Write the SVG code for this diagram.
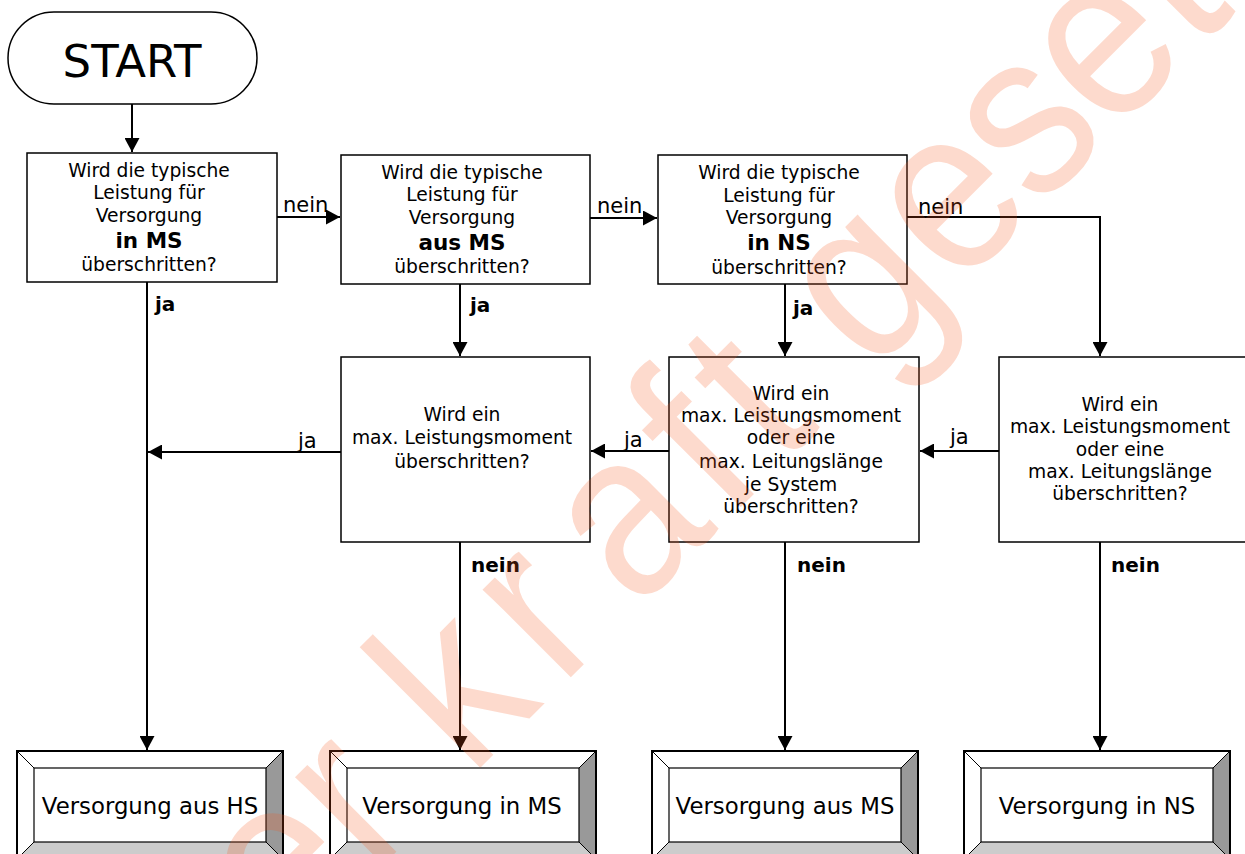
<svg xmlns="http://www.w3.org/2000/svg" width="1245" height="854" viewBox="0 0 1245 854">
<defs>
<style>
.box{fill:#fff;stroke:#000;stroke-width:1.5}
.c{fill:none;stroke:#000;stroke-width:2}
.t{font-family:"DejaVu Sans",Verdana,sans-serif;font-size:18.7px;text-anchor:middle;fill:#000}
.tb{font-family:"DejaVu Sans",Verdana,sans-serif;font-size:21.5px;font-weight:bold;text-anchor:middle;fill:#000}
.lr{font-family:"DejaVu Sans",Verdana,sans-serif;font-size:21px;fill:#000}
.lb{font-family:"DejaVu Sans",Verdana,sans-serif;font-size:20px;font-weight:bold;fill:#000}
.big{font-family:"DejaVu Sans",Verdana,sans-serif;font-size:45px;text-anchor:middle;fill:#000}
.out{font-family:"DejaVu Sans",Verdana,sans-serif;font-size:22.8px;text-anchor:middle;fill:#000}
.wm{font-family:"Liberation Sans",Arial,sans-serif;font-size:210px;fill:#F8561A;fill-opacity:0.22;text-anchor:middle}
</style>
<marker id="ah" markerUnits="userSpaceOnUse" markerWidth="15" markerHeight="15" refX="14" refY="7.5" orient="auto" viewBox="0 0 15 15"><path d="M0,0 L14,7.5 L0,15 z" fill="#000"/></marker>
<g id="bevel">
<polygon points="0,0 266,0 249,17 17,17" fill="#fff"/>
<polygon points="0,0 17,17 17,91 0,108" fill="#fff"/>
<polygon points="266,0 266,108 249,91 249,17" fill="#999"/>
<polygon points="0,108 17,91 249,91 266,108" fill="#ccc"/>
<rect x="17" y="17" width="232" height="74" fill="#fff" stroke="#000" stroke-width="1.2"/>
<path d="M0,0 L17,17 M266,0 L249,17 M0,108 L17,91 M266,108 L249,91" stroke="#000" stroke-width="1"/>
<rect x="0" y="0" width="266" height="108" fill="none" stroke="#000" stroke-width="2"/>
</g>
</defs>
<rect width="1245" height="854" fill="#fff"/>

<g id="start">
<rect x="8" y="12" width="249" height="92" rx="46" ry="46" class="box"/>
<text x="132" y="77" class="big">START</text>
</g>

<g id="q1">
<rect x="27" y="153" width="250" height="129" class="box"/>
<text class="t" x="149"><tspan x="149" y="177">Wird die typische</tspan><tspan x="149" y="199">Leistung für</tspan><tspan x="149" y="222">Versorgung</tspan></text>
<text class="tb" x="149" y="248">in MS</text>
<text class="t" x="149" y="271">überschritten?</text>
</g>

<g id="q2">
<rect x="341" y="155" width="249" height="129" class="box"/>
<text class="t"><tspan x="462" y="179">Wird die typische</tspan><tspan x="462" y="201">Leistung für</tspan><tspan x="462" y="224">Versorgung</tspan></text>
<text class="tb" x="462" y="250">aus MS</text>
<text class="t" x="462" y="273">überschritten?</text>
</g>

<g id="q3">
<rect x="658" y="155" width="249" height="129" class="box"/>
<text class="t"><tspan x="779" y="179">Wird die typische</tspan><tspan x="779" y="202">Leistung für</tspan><tspan x="779" y="224">Versorgung</tspan></text>
<text class="tb" x="779" y="250">in NS</text>
<text class="t" x="779" y="274">überschritten?</text>
</g>

<g id="q4">
<rect x="341" y="357" width="249" height="185" class="box"/>
<text class="t"><tspan x="462" y="421">Wird ein</tspan><tspan x="462" y="444">max. Leistungsmoment</tspan><tspan x="462" y="468">überschritten?</tspan></text>
</g>

<g id="q5">
<rect x="669" y="357" width="250" height="185" class="box"/>
<text class="t"><tspan x="791" y="400">Wird ein</tspan><tspan x="791" y="422">max. Leistungsmoment</tspan><tspan x="791" y="444">oder eine</tspan><tspan x="791" y="468">max. Leitungslänge</tspan><tspan x="791" y="491">je System</tspan><tspan x="791" y="513">überschritten?</tspan></text>
</g>

<g id="q6">
<rect x="999" y="357" width="252" height="185" class="box"/>
<text class="t"><tspan x="1120" y="411">Wird ein</tspan><tspan x="1120" y="433">max. Leistungsmoment</tspan><tspan x="1120" y="456">oder eine</tspan><tspan x="1120" y="478">max. Leitungslänge</tspan><tspan x="1120" y="500">überschritten?</tspan></text>
</g>

<g id="r1"><use href="#bevel" x="17" y="751"/><text class="out" x="150" y="814">Versorgung aus HS</text></g>
<g id="r2"><use href="#bevel" x="330" y="751"/><text class="out" x="462" y="814">Versorgung in MS</text></g>
<g id="r3"><use href="#bevel" x="652" y="751"/><text class="out" x="785" y="814">Versorgung aus MS</text></g>
<g id="r4"><use href="#bevel" x="964" y="751"/><text class="out" x="1097" y="814">Versorgung in NS</text></g>

<g id="connectors">
<path class="c" d="M132,104 V152" marker-end="url(#ah)"/>
<path class="c" d="M277,217 H340" marker-end="url(#ah)"/>
<path class="c" d="M590,218 H657" marker-end="url(#ah)"/>
<path class="c" d="M907,217 H1100 V356" marker-end="url(#ah)"/>
<path class="c" d="M147,282 V750" marker-end="url(#ah)"/>
<path class="c" d="M460,284 V356" marker-end="url(#ah)"/>
<path class="c" d="M785,284 V356" marker-end="url(#ah)"/>
<path class="c" d="M341,452 H148" marker-end="url(#ah)"/>
<path class="c" d="M669,451 H591" marker-end="url(#ah)"/>
<path class="c" d="M999,451 H920" marker-end="url(#ah)"/>
<path class="c" d="M460,542 V750" marker-end="url(#ah)"/>
<path class="c" d="M785,542 V750" marker-end="url(#ah)"/>
<path class="c" d="M1100,542 V750" marker-end="url(#ah)"/>
<text class="lr" x="283" y="212">nein</text>
<text class="lr" x="597" y="213">nein</text>
<text class="lr" x="918" y="214">nein</text>
<text class="lb" x="155" y="311">ja</text>
<text class="lb" x="470" y="312">ja</text>
<text class="lb" x="793" y="315">ja</text>
<text class="lr" x="298" y="448">ja</text>
<text class="lr" x="624" y="447">ja</text>
<text class="lr" x="950" y="444">ja</text>
<text class="lb" x="471" y="572">nein</text>
<text class="lb" x="797" y="572">nein</text>
<text class="lb" x="1111" y="572">nein</text>
</g>

<g id="watermark" transform="translate(624,624) rotate(-45)">
<text class="wm" transform="scale(1,1.12)" x="-780 -660 -540 -415 -320 -240 -165 -55 76 176 250 330 410 530 638 747 838 930 1020" y="0">außer kraft gesetzt</text>
</g>
</svg>
